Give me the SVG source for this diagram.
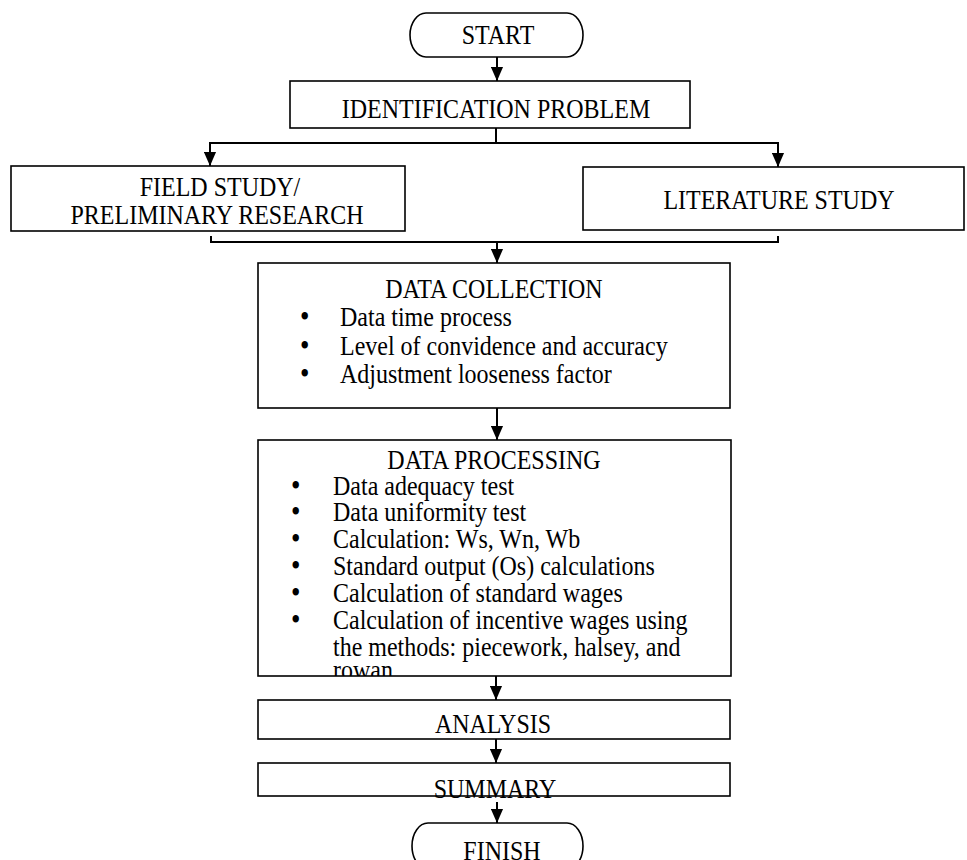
<svg xmlns="http://www.w3.org/2000/svg" width="967" height="860" viewBox="0 0 967 860">
<style>
.box{fill:#fff;stroke:#000;stroke-width:1.6}
.t{font-family:"Liberation Serif","Times New Roman",serif;font-size:24px;fill:#000}
.b{font-family:"Liberation Serif","Times New Roman",serif;font-size:27px;fill:#000}
.c{text-anchor:middle}
.ln{fill:none;stroke:#000;stroke-width:2}
</style>
<defs>
<marker id="ah" markerUnits="userSpaceOnUse" markerWidth="14" markerHeight="13" viewBox="0 0 15 13" refX="15" refY="6.5" orient="auto">
<path d="M0,0 L15,6.5 L0,13 Z" fill="#000"/>
</marker>
<clipPath id="dpclip"><rect x="258" y="440" width="473" height="236"/></clipPath>
</defs>
<rect width="967" height="860" fill="#fff"/>

<g id="connectors">
<line class="ln" x1="497" y1="57" x2="497" y2="81" marker-end="url(#ah)"/>
<polyline class="ln" points="496,128 496,143"/>
<polyline class="ln" points="210,160 210,143 778,143 778,160"/>
<line class="ln" x1="210" y1="150" x2="210" y2="166" marker-end="url(#ah)"/>
<line class="ln" x1="778" y1="150" x2="778" y2="167" marker-end="url(#ah)"/>
<polyline class="ln" points="211,236 211,242 778,242 778,236"/>
<line class="ln" x1="497" y1="242" x2="497" y2="263" marker-end="url(#ah)"/>
<line class="ln" x1="497" y1="408" x2="497" y2="440" marker-end="url(#ah)"/>
<line class="ln" x1="496" y1="676" x2="496" y2="700" marker-end="url(#ah)"/>
<line class="ln" x1="496" y1="739" x2="496" y2="763" marker-end="url(#ah)"/>
<line class="ln" x1="497" y1="802" x2="497" y2="823" marker-end="url(#ah)"/>
</g>

<g id="start">
<rect class="box" x="410" y="13" width="173" height="44" rx="16" ry="22"/>
<text class="t c" x="498" transform="matrix(1 0 0 1.18 0 44)">START</text>
</g>

<g id="identification">
<rect class="box" x="290" y="81" width="400" height="47"/>
<text class="t c" x="496" transform="matrix(1 0 0 1.18 0 118)">IDENTIFICATION PROBLEM</text>
</g>

<g id="field-study">
<rect class="box" x="11" y="166" width="394" height="65"/>
<text class="t c" x="220" transform="matrix(1 0 0 1.18 0 196)">FIELD STUDY/</text>
<text class="t c" x="217" transform="matrix(1 0 0 1.18 0 224)">PRELIMINARY RESEARCH</text>
</g>

<g id="literature-study">
<rect class="box" x="583" y="167" width="381" height="63"/>
<text class="t c" x="779" transform="matrix(1 0 0 1.18 0 209)">LITERATURE STUDY</text>
</g>

<g id="data-collection">
<rect class="box" x="258" y="263" width="472" height="145"/>
<text class="t c" x="494" transform="matrix(1 0 0 1.18 0 298)">DATA COLLECTION</text>
<text class="b" x="300" transform="matrix(1 0 0 1.18 0 327)">•</text><text class="t" x="340" transform="matrix(1 0 0 1.18 0 326)">Data time process</text>
<text class="b" x="300" transform="matrix(1 0 0 1.18 0 356)">•</text><text class="t" x="340" transform="matrix(1 0 0 1.18 0 355)">Level of convidence and accuracy</text>
<text class="b" x="300" transform="matrix(1 0 0 1.18 0 384)">•</text><text class="t" x="340" transform="matrix(1 0 0 1.18 0 383)">Adjustment looseness factor</text>
</g>

<g id="data-processing">
<rect class="box" x="258" y="440" width="473" height="236"/>
<g clip-path="url(#dpclip)">
<text class="t c" x="494" transform="matrix(1 0 0 1.18 0 469)">DATA PROCESSING</text>
<text class="b" x="291" transform="matrix(1 0 0 1.18 0 496)">•</text><text class="t" x="333" transform="matrix(1 0 0 1.18 0 495)">Data adequacy test</text>
<text class="b" x="291" transform="matrix(1 0 0 1.18 0 522)">•</text><text class="t" x="333" transform="matrix(1 0 0 1.18 0 521)">Data uniformity test</text>
<text class="b" x="291" transform="matrix(1 0 0 1.18 0 549)">•</text><text class="t" x="333" transform="matrix(1 0 0 1.18 0 548)">Calculation: Ws, Wn, Wb</text>
<text class="b" x="291" transform="matrix(1 0 0 1.18 0 576)">•</text><text class="t" x="333" transform="matrix(1 0 0 1.18 0 575)">Standard output (Os) calculations</text>
<text class="b" x="291" transform="matrix(1 0 0 1.18 0 603)">•</text><text class="t" x="333" transform="matrix(1 0 0 1.18 0 602)">Calculation of standard wages</text>
<text class="b" x="291" transform="matrix(1 0 0 1.18 0 630)">•</text><text class="t" x="333" transform="matrix(1 0 0 1.18 0 629)">Calculation of incentive wages using</text>
<text class="t" x="333" transform="matrix(1 0 0 1.18 0 656)">the methods: piecework, halsey, and</text>
<text class="t" x="333" transform="matrix(1 0 0 1.18 0 679)">rowan</text>
</g>
</g>

<g id="analysis">
<rect class="box" x="258" y="700" width="472" height="39"/>
<text class="t c" x="493" transform="matrix(1 0 0 1.18 0 733)">ANALYSIS</text>
</g>

<g id="summary">
<rect class="box" x="258" y="763" width="472" height="33"/>
<text class="t c" x="495" transform="matrix(1 0 0 1.18 0 798)">SUMMARY</text>
</g>

<g id="finish">
<rect class="box" x="412" y="823" width="171" height="46" rx="16" ry="23"/>
<text class="t c" x="502" transform="matrix(1 0 0 1.18 0 860)">FINISH</text>
</g>
</svg>
